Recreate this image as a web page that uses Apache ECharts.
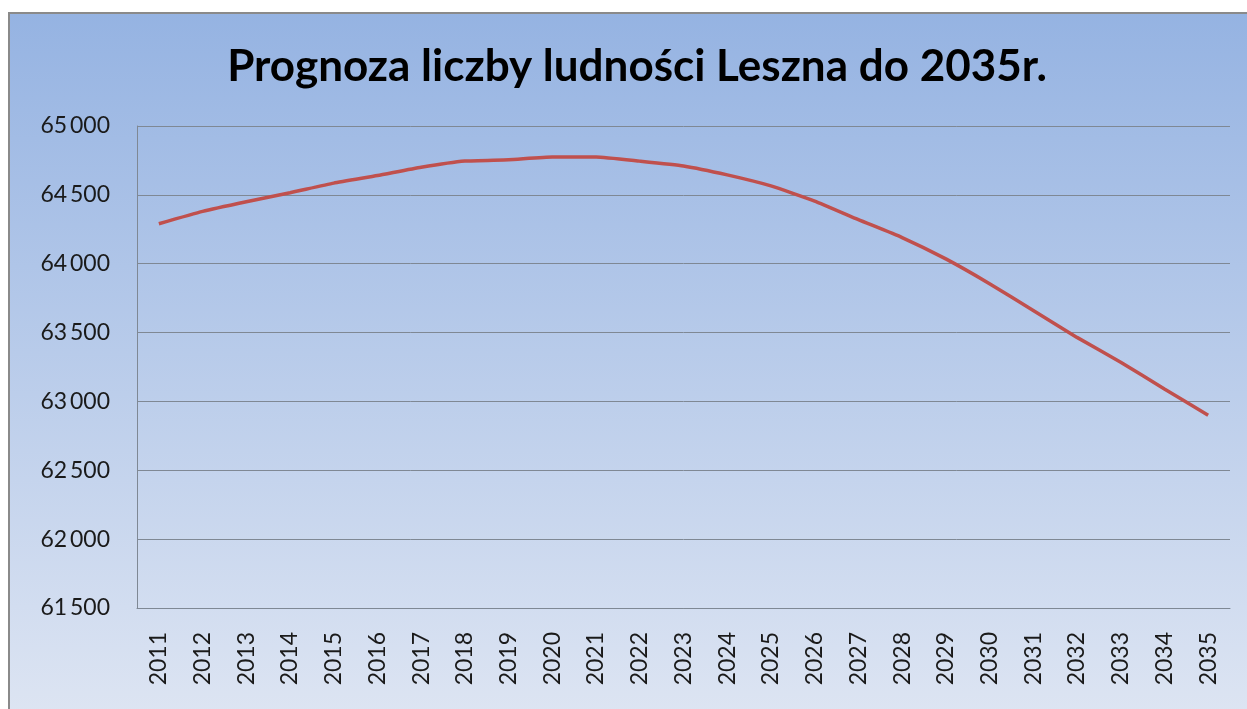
<!DOCTYPE html>
<html>
<head>
<meta charset="utf-8">
<title>Prognoza liczby ludności Leszna do 2035r.</title>
<script src="https://cdn.jsdelivr.net/npm/echarts@6/dist/echarts.min.js"></script>
<style>
  html, body { margin: 0; padding: 0; background: #fff; }
  #chart { width: 1247px; height: 709px; }
</style>
</head>
<body>
<div id="chart"></div>
<script>
  // lata prognozy
  var years = ['2011', '2012', '2013', '2014', '2015', '2016', '2017', '2018', '2019', '2020',
    '2021', '2022', '2023', '2024', '2025', '2026', '2027', '2028', '2029', '2030',
    '2031', '2032', '2033', '2034', '2035'];
  // liczba ludności
  var population = [64290, 64380, 64450, 64515, 64585, 64640, 64700, 64745, 64755, 64775,
    64775, 64745, 64710, 64645, 64565, 64455, 64320, 64190, 64035, 63855,
    63660, 63465, 63285, 63090, 62900];
  var yMin = 61500;
  var yMax = 65000;
  var yStep = 500;

  var myChart = echarts.init(document.getElementById('chart'));

  function fmt(v) {
    var s = String(v);
    return s.slice(0, s.length - 3) + '\u2009' + s.slice(s.length - 3);
  }

  var option = {
    animation: false,
    graphic: [{
      type: 'rect',
      z: -10,
      shape: { x: 9, y: 13, width: 1260, height: 720 },
      style: {
        fill: {
          type: 'linear', x: 0, y: 0, x2: 0, y2: 1,
          colorStops: [
            { offset: 0, color: '#95b3e2' },
            { offset: 1, color: '#dfe6f3' }
          ]
        },
        stroke: '#8a8a8a',
        lineWidth: 2
      }
    }],
    title: {
      text: 'Prognoza liczby ludności Leszna do 2035r.',
      left: 632,
      textAlign: 'center',
      top: 40,
      textStyle: {
        fontFamily: 'Lato',
        fontWeight: 'bold',
        fontSize: 44,
        color: '#000'
      }
    },
    grid: {
      left: 137,
      right: 17,
      top: 126,
      bottom: 101,
      containLabel: false
    },
    xAxis: {
      type: 'category',
      data: years,
      boundaryGap: true,
      axisLine: { lineStyle: { color: '#7f8894', width: 1 } },
      axisTick: { show: false },
      axisLabel: {
        rotate: 90,
        margin: 24,
        fontFamily: 'Lato',
        fontSize: 23,
        color: '#1a1a1a'
      }
    },
    yAxis: {
      type: 'value',
      min: yMin,
      max: yMax,
      interval: yStep,
      axisLine: { show: true, lineStyle: { color: '#7f8894', width: 1 } },
      axisTick: { show: false },
      splitLine: { lineStyle: { color: '#7f8894', width: 1 } },
      axisLabel: {
        margin: 27,
        fontFamily: 'Lato',
        fontSize: 23,
        color: '#1a1a1a',
        formatter: fmt
      }
    },
    series: [{
      type: 'line',
      data: population,
      symbol: 'none',
      smooth: 0.15,
      lineStyle: { color: '#c0504d', width: 3.5 }
    }]
  };
  myChart.setOption(option);
</script>
</body>
</html>
